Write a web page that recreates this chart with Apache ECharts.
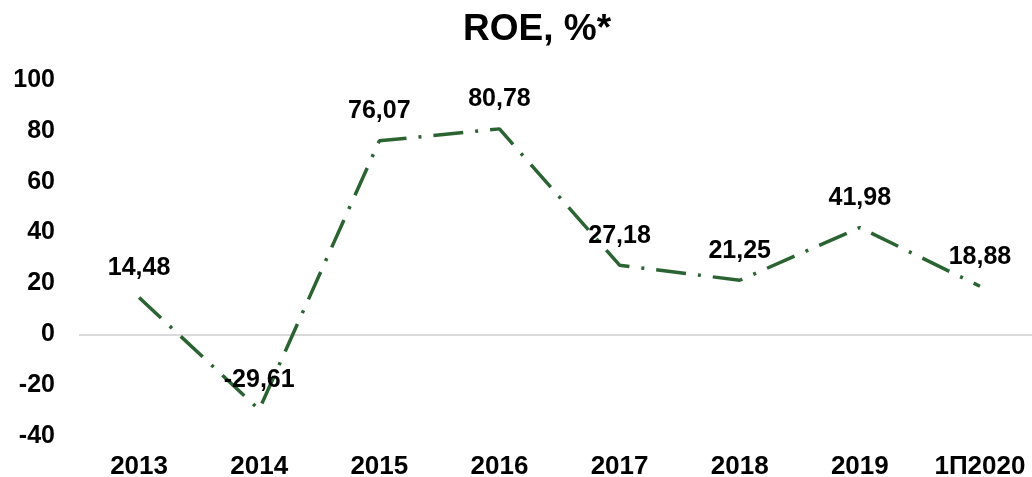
<!DOCTYPE html>
<html>
<head>
<meta charset="utf-8">
<script src="https://cdn.jsdelivr.net/npm/echarts@6/dist/echarts.min.js"></script>
<style>
html,body{margin:0;padding:0;background:#fff;}
#chart{width:1032px;height:477px;}
</style>
</head>
<body>
<div id="chart"></div>
<script>
const categories = ['2013','2014','2015','2016','2017','2018','2019','1П2020'];
const roeValues = [14.48, -29.61, 76.07, 80.78, 27.18, 21.25, 41.98, 18.88];
const yTicks = { min: -40, max: 100, interval: 20 };

const chart = echarts.init(document.getElementById('chart'));
const font = '"Liberation Sans", Arial, sans-serif';
chart.setOption({
  animation: false,
  backgroundColor: '#ffffff',
  title: {
    text: 'ROE, %*',
    left: 458,
    top: 6,
    textStyle: { fontFamily: font, fontWeight: 'bold', fontSize: 37, color: '#000' }
  },
  grid: { left: 79, width: 961, top: 80, bottom: 41, containLabel: false, outerBoundsMode: 'none' },
  xAxis: {
    type: 'category',
    data: categories,
    boundaryGap: true,
    axisLine: { show: false },
    axisTick: { show: false },
    axisLabel: { fontFamily: font, fontWeight: 'bold', fontSize: 26, color: '#000', margin: 18 }
  },
  yAxis: {
    type: 'value',
    min: yTicks.min, max: yTicks.max, interval: yTicks.interval,
    axisLine: { show: false },
    axisTick: { show: false },
    splitLine: { show: false },
    axisLabel: { fontFamily: font, fontWeight: 'bold', fontSize: 25, color: '#000', margin: 24 }
  },
  series: [{
    type: 'line',
    data: roeValues,
    symbol: 'circle',
    symbolSize: 2,
    showSymbol: true,
    itemStyle: { color: 'rgba(0,0,0,0)', borderWidth: 0 },
    lineStyle: { color: '#2B6432', width: 3.5, type: [30, 12, 3, 12], cap: 'butt' },
    label: {
      show: true,
      position: 'top',
      distance: 16,
      fontFamily: font, fontWeight: 'bold', fontSize: 25, color: '#000',
      formatter: p => p.value.toFixed(2).replace('.', ',')
    },
    labelLayout: { hideOverlap: false },
    markLine: {
      silent: true,
      symbol: 'none',
      label: { show: false },
      lineStyle: { color: '#d9d9d9', width: 2, type: 'solid' },
      data: [{ yAxis: 0 }],
      z: 1
    },
    z: 3
  }]
});
</script>
</body>
</html>
